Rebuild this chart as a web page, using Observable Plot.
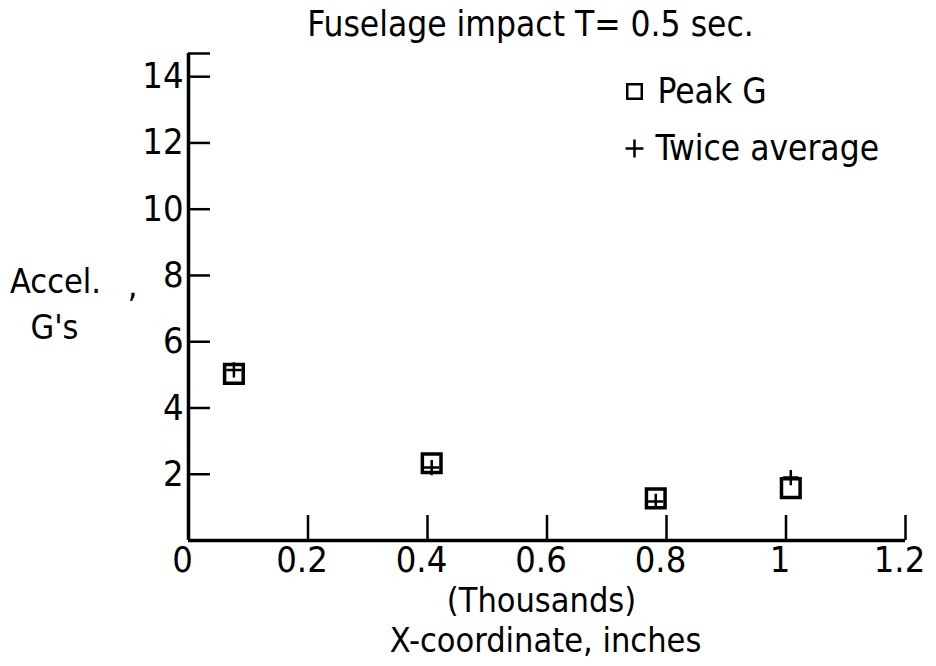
<!DOCTYPE html>
<html><head><meta charset="utf-8">
<script src="https://cdn.jsdelivr.net/npm/d3@7"></script>
<script src="https://cdn.jsdelivr.net/npm/@observablehq/plot@0.6"></script>
<style>
body{margin:0;background:#fff}
#chart svg{font-family:"Liberation Sans Narrow","DejaVu Sans Condensed","Roboto Condensed",sans-serif}
</style>
</head><body><div id="chart"></div>
<script>
// Data (x in thousands of inches, acceleration in G's)
const xCoordThousands = [0.076, 0.407, 0.782, 1.008];
const peakG = [5.03, 2.33, 1.27, 1.58];
const twiceAverage = [5.15, 2.2, 1.18, 1.9];

const xTickValues = [0.2, 0.4, 0.6, 0.8, 1.0, 1.2];
const xLabelValues = [0, 0.2, 0.4, 0.6, 0.8, 1.0, 1.2];
const xTickLabels = ["0", "0.2", "0.4", "0.6", "0.8", "1", "1.2"];
const yTickValues = [2, 4, 6, 8, 10, 12, 14];
const yTickLabels = ["2", "4", "6", "8", "10", "12", "14"];
const yAxisTop = 14.7;

const titleText = "Fuselage impact T= 0.5 sec.";
const legendLabels = ["Peak G", "Twice average"];

const W = 936, H = 666;
const mL = 188, mR = 31, mT = 53, mB = 126;
const frameW = W - mL - mR, frameH = H - mT - mB;
const cx = mL + frameW / 2;
const font = 36;

function label(txt, x, y, size, anchor = "middle") {
  return Plot.text([txt], {text: d => d, frameAnchor: "top-left", dx: x - mL, dy: y - mT,
    textAnchor: anchor, lineAnchor: "middle", fontSize: size, fill: "#000"});
}

const chart = Plot.plot({
  width: W, height: H,
  marginLeft: mL, marginRight: mR, marginTop: mT, marginBottom: mB,
  style: {background: "#fff", color: "#000", fontSize: font + "px", fontFamily: '"Liberation Sans Narrow","DejaVu Sans Condensed",sans-serif'},
  x: {domain: [0, 1.2], axis: null},
  y: {domain: [0, yAxisTop], axis: null},
  marks: [
    // axis lines
    Plot.ruleX([0], {stroke: "#000", strokeWidth: 3.5}),
    Plot.ruleY([0], {stroke: "#000", strokeWidth: 3.5}),
    // inward ticks on y axis (including the top stub)
    Plot.tickY([...yTickValues, yAxisTop], {y: d => d, stroke: "#000", strokeWidth: 2.5, insetRight: frameW - 22}),
    // upward ticks on x axis
    Plot.tickX(xTickValues, {x: d => d, stroke: "#000", strokeWidth: 2.5, insetTop: frameH - 25}),
    // tick labels
    Plot.axisY({ticks: yTickValues, tickSize: 0, tickPadding: 5, tickFormat: (d, i) => yTickLabels[i], fontSize: font, anchor: "left"}),
    Plot.axisX({ticks: xLabelValues, tickSize: 0, tickPadding: 6, tickFormat: (d, i) => xTickLabels[i], fontSize: font, anchor: "bottom", dx: -6}),
    // data
    Plot.dot(peakG, {x: (d, i) => xCoordThousands[i], y: d => d, symbol: "square", r: 10.5, stroke: "#000", strokeWidth: 3.5, fill: "none"}),
    Plot.dot(twiceAverage, {x: (d, i) => xCoordThousands[i], y: d => d, symbol: "plus", r: 5, stroke: "#000", strokeWidth: 2.5}),
    // legend
    Plot.dot([legendLabels[0]], {frameAnchor: "top-left", dx: 634 - mL, dy: 91 - mT, symbol: "square", r: 8.2, stroke: "#000", strokeWidth: 2.5, fill: "none"}),
    Plot.dot([legendLabels[1]], {frameAnchor: "top-left", dx: 634 - mL, dy: 148 - mT, symbol: "plus", r: 5.8, stroke: "#000", strokeWidth: 2.5}),
    label(legendLabels[0], 657, 91, 35, "start"),
    label(legendLabels[1], 655, 148, 35, "start"),
    // title
    label(titleText, 530, 24, 35),
    // y axis label
    label("Accel.", 55, 282, 34),
    label(",", 132, 286, 34),
    label("G's", 54, 328, 34),
    // x axis label
    label("(Thousands)", 541, 601, 34),
    label("X-coordinate, inches", 545, 641, 34)
  ]
});
document.getElementById("chart").appendChild(chart);
</script>
</body></html>
